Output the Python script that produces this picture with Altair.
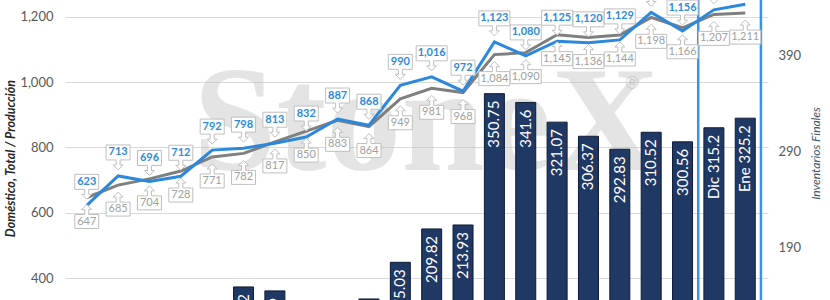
import altair as alt
import pandas as pd

# ---- data ----
produccion = [623, 713, 696, 712, 792, 798, 813, 832, 887, 868, 990, 1016, 972,
              1123, 1080, 1125, 1120, 1129, 1213, 1156, 1221, 1238]
domestico = [647, 685, 704, 728, 771, 782, 817, 850, 883, 864, 949, 981, 968,
             1084, 1090, 1145, 1136, 1144, 1198, 1166, 1207, 1211]
inventarios = [None, None, None, None, None, 149.42, 145.29, None, None, 136.9,
               175.03, 209.82, 213.93, 350.75, 341.6, 321.07, 306.37, 292.83,
               310.52, 300.56, 315.2, 325.2]
inv_prefix = [""] * 20 + ["Dic ", "Ene "]
highlight_first, highlight_last = 20, 21

n = len(produccion)
df = pd.DataFrame({
    "idx": list(range(n)),
    "produccion": produccion,
    "domestico": domestico,
    "inventarios": inventarios,
    "inv_label": [(p + f"{v:g}") if v is not None else "" for p, v in zip(inv_prefix, inventarios)],
})
hl = pd.DataFrame({"start": [highlight_first - 0.5], "end": [highlight_last + 0.5]})

FONT = "Lato"
BLUE = "#2B88DC"
GRAY = "#7F7F7F"
NAVY = "#1F3864"

x_scale = alt.Scale(domain=[-0.534, 21.566], nice=False, zero=False)
yl_scale = alt.Scale(domain=[333.6, 1251], nice=False, zero=False)
yr_scale = alt.Scale(domain=[135.8, 448.3], nice=False, zero=False)
X = alt.X("idx:Q", scale=x_scale, axis=None)

left_axis = alt.Axis(
    values=[400, 600, 800, 1000, 1200], format=",.0f", grid=True, gridColor="#D9D9D9",
    domain=False, ticks=False, labelPadding=12, labelColor="#595959", labelFontSize=13,
    labelFont=FONT, title="Doméstico, Total / Producción", titleFont=FONT,
    titleFontWeight="bold", titleFontStyle="italic", titleFontSize=12.5, titleColor="#262626",
    titleAngle=270, titleAlign="center", titleBaseline="middle", titleX=-55, titleY=158)
right_axis = alt.Axis(
    orient="right", values=[190, 290, 390], format=".0f", grid=False, domain=False, ticks=False,
    labelPadding=10, labelColor="#595959", labelFontSize=13, labelFont=FONT,
    title="Inventarios Finales", titleFont=FONT, titleFontStyle="italic",
    titleFontWeight="normal", titleFontSize=12, titleColor="#44546A",
    titleAngle=270, titleAlign="center", titleBaseline="middle", titleX=47, titleY=153)

base = alt.Chart(df)

# watermark (positions relative to plot area, which starts 65px from the left)
wm = alt.Chart(pd.DataFrame({"t": ["StoneX"]})).mark_text(
    font="Liberation Serif", fontWeight="bold", fontSize=150, align="left",
    baseline="alphabetic", color="#BDBDBD", opacity=0.4
).encode(x=alt.value(128), y=alt.value(170), text="t:N")
wm_r = alt.Chart(pd.DataFrame({"t": ["®"]})).mark_text(
    font="Liberation Sans", fontSize=18, align="center", baseline="middle",
    color="#BDBDBD", opacity=0.6
).encode(x=alt.value(567), y=alt.value(84), text="t:N")

valid_inv = base.transform_filter("isValid(datum.inventarios)")
bars = valid_inv.mark_bar(size=20, color=NAVY, stroke="#0E1C38", strokeWidth=1, clip=True).encode(
    x=X, y=alt.Y("inventarios:Q", scale=yr_scale, axis=right_axis), y2=alt.datum(0))
bar_text = valid_inv.mark_text(angle=270, align="right", baseline="middle", dx=-7,
                               color="white", fontSize=15, font=FONT, clip=True).encode(
    x=X, y=alt.Y("inventarios:Q", scale=yr_scale), text="inv_label:N")

bars_layer = alt.layer(wm, wm_r, bars, bar_text)

rect = alt.Chart(hl).mark_rect(fillOpacity=0, stroke="#3A94E6", strokeWidth=2.5, clip=True).encode(
    x=alt.X("start:Q", scale=x_scale, axis=None), x2="end:Q",
    y=alt.value(-10), y2=alt.value(310))

gray_line = base.mark_line(color=GRAY, strokeWidth=3, clip=True).encode(
    x=X, y=alt.Y("domestico:Q", scale=yl_scale, axis=left_axis))
blue_line = base.mark_line(color=BLUE, strokeWidth=3, clip=True).encode(
    x=X, y=alt.Y("produccion:Q", scale=yl_scale))


def down_callout(w):
    h = w / 2
    return (f"M {-h} -31 L {h} -31 L {h} -16 L 2 -16 L 2 -11 L 5 -11 L 0 -6 "
            f"L -5 -11 L -2 -11 L -2 -16 L {-h} -16 Z")


def up_callout(w):
    h = w / 2
    return (f"M {-h} 31 L {h} 31 L {h} 17 L 2 17 L 2 12 L 5 12 L 0 7 "
            f"L -5 12 L -2 12 L -2 17 L {-h} 17 Z")


def callouts(field, shape_fn, dy, color, weight):
    layers = []
    for cond, w in [(f"datum.{field} < 1000", 24), (f"datum.{field} >= 1000", 31)]:
        sub = base.transform_filter(cond)
        layers.append(sub.mark_point(shape=shape_fn(w), size=4, filled=True, fill="white",
                                     stroke="#BFBFBF", strokeWidth=1, opacity=1, clip=True).encode(
            x=X, y=alt.Y(f"{field}:Q", scale=yl_scale)))
    layers.append(base.mark_text(dy=dy, fontSize=11, font=FONT, fontWeight=weight, color=color,
                                 align="center", baseline="middle", clip=True).encode(
        x=X, y=alt.Y(f"{field}:Q", scale=yl_scale), text=alt.Text(f"{field}:Q", format=",")))
    return layers


lines_layer = alt.layer(
    rect, gray_line, blue_line,
    *callouts("domestico", up_callout, 24, "#A0A0A0", "normal"),
    *callouts("produccion", down_callout, -23.5, "#2E8BDA", "bold"),
)

chart = alt.layer(bars_layer, lines_layer).resolve_scale(y="independent").properties(
    width=703, height=300,
    autosize=alt.AutoSizeParams(type="none"),
    padding={"left": 65, "top": 0, "right": 62, "bottom": 0},
).configure_view(stroke=None)

chart.save("out.html", embed_options={"renderer": "svg", "actions": False})
